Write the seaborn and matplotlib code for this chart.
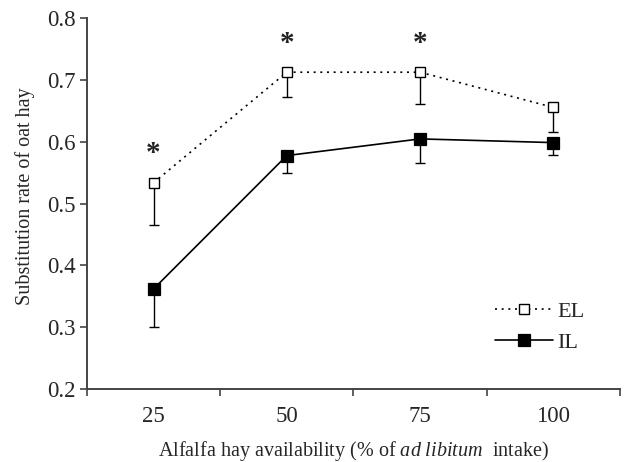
import numpy as np
import pandas as pd
import matplotlib
matplotlib.use("Agg")
import matplotlib.pyplot as plt
import seaborn as sns

# -------------------------------
# Data
# -------------------------------
availability = ["25", "50", "75", "100"]
el_mean = [0.534, 0.713, 0.713, 0.656]
el_err = [0.069, 0.040, 0.052, 0.040]
il_mean = [0.362, 0.578, 0.605, 0.599]
il_err = [0.061, 0.029, 0.039, 0.020]
significant = [True, True, True, False]

df = pd.DataFrame({
    "availability": availability * 2,
    "rate": el_mean + il_mean,
    "group": ["EL"] * 4 + ["IL"] * 4,
})

# -------------------------------
# Style
# -------------------------------
sns.set_theme(style="ticks")
plt.rcParams["font.family"] = ["Liberation Serif", "DejaVu Serif"]
plt.rcParams["mathtext.fontset"] = "custom"
plt.rcParams["mathtext.rm"] = "Liberation Serif"
plt.rcParams["mathtext.it"] = "Liberation Serif:italic"

fig = plt.figure(figsize=(6.25, 4.62), dpi=100)
ax = fig.add_axes([0.139, 0.158, 0.853, 0.802])

pos = np.arange(len(availability))

# error bars (lower side only)
ax.errorbar(pos, el_mean, yerr=[el_err, np.zeros(4)], fmt="none",
            ecolor="black", elinewidth=1, capsize=3.5, capthick=1, zorder=1)
ax.errorbar(pos, il_mean, yerr=[il_err, np.zeros(4)], fmt="none",
            ecolor="black", elinewidth=1, capsize=3.5, capthick=1, zorder=1)

sns.pointplot(data=df[df.group == "EL"], x="availability", y="rate",
              order=availability, color="black", markers="s",
              linestyles=(0, (1.2, 2.8)), errorbar=None, ax=ax,
              markerfacecolor="white", markeredgecolor="black",
              markersize=7.5, markeredgewidth=1, linewidth=1.2, label="EL")
sns.pointplot(data=df[df.group == "IL"], x="availability", y="rate",
              order=availability, color="black", markers="s",
              linestyles="-", errorbar=None, ax=ax,
              markerfacecolor="black", markeredgecolor="black",
              markersize=8.5, linewidth=1.2, label="IL")

for line in ax.lines:
    line.set_zorder(3)

# significance stars
for x, y, s in zip(pos, el_mean, significant):
    if s:
        ax.text(x, y + 0.047, "*", ha="center", va="center",
                fontsize=21, fontweight="bold", color="#222222")

# -------------------------------
# Axes
# -------------------------------
ax.set_xlim(-0.5, 3.5)
ax.set_ylim(0.2, 0.8)
ax.set_yticks(np.arange(0.2, 0.81, 0.1))
ax.set_yticklabels([f"{v:.1f}" for v in np.arange(0.2, 0.81, 0.1)])
ax.set_xticks(pos)
ax.set_xticklabels(availability)
ax.set_xticks(np.arange(-0.5, 3.6, 1.0), minor=True)
ax.tick_params(axis="x", which="major", length=0, pad=12, labelsize=16.5)
ax.tick_params(axis="x", which="minor", length=5, width=1.2,
               direction="out", color="#444444")
ax.tick_params(axis="y", length=5, width=1.2, color="#444444",
               labelsize=16.5, pad=3)

for side in ["top", "right"]:
    ax.spines[side].set_visible(False)
for side in ["left", "bottom"]:
    ax.spines[side].set_color("#444444")
    ax.spines[side].set_linewidth(1.4)

ax.set_ylabel("Substitution rate of oat hay", fontsize=14.5)
ax.yaxis.set_label_coords(-0.097, 0.52)
ax.set_xlabel(r"Alfalfa hay availability (% of $\mathit{ad\ libitum}$  intake)",
              fontsize=14.5, labelpad=9)

ax.legend(loc="center", bbox_to_anchor=(0.85, 0.167),
          frameon=False, fontsize=16, handlelength=2.6,
          handletextpad=0.2, labelspacing=0.45)

fig.savefig("out.png", dpi=100)
